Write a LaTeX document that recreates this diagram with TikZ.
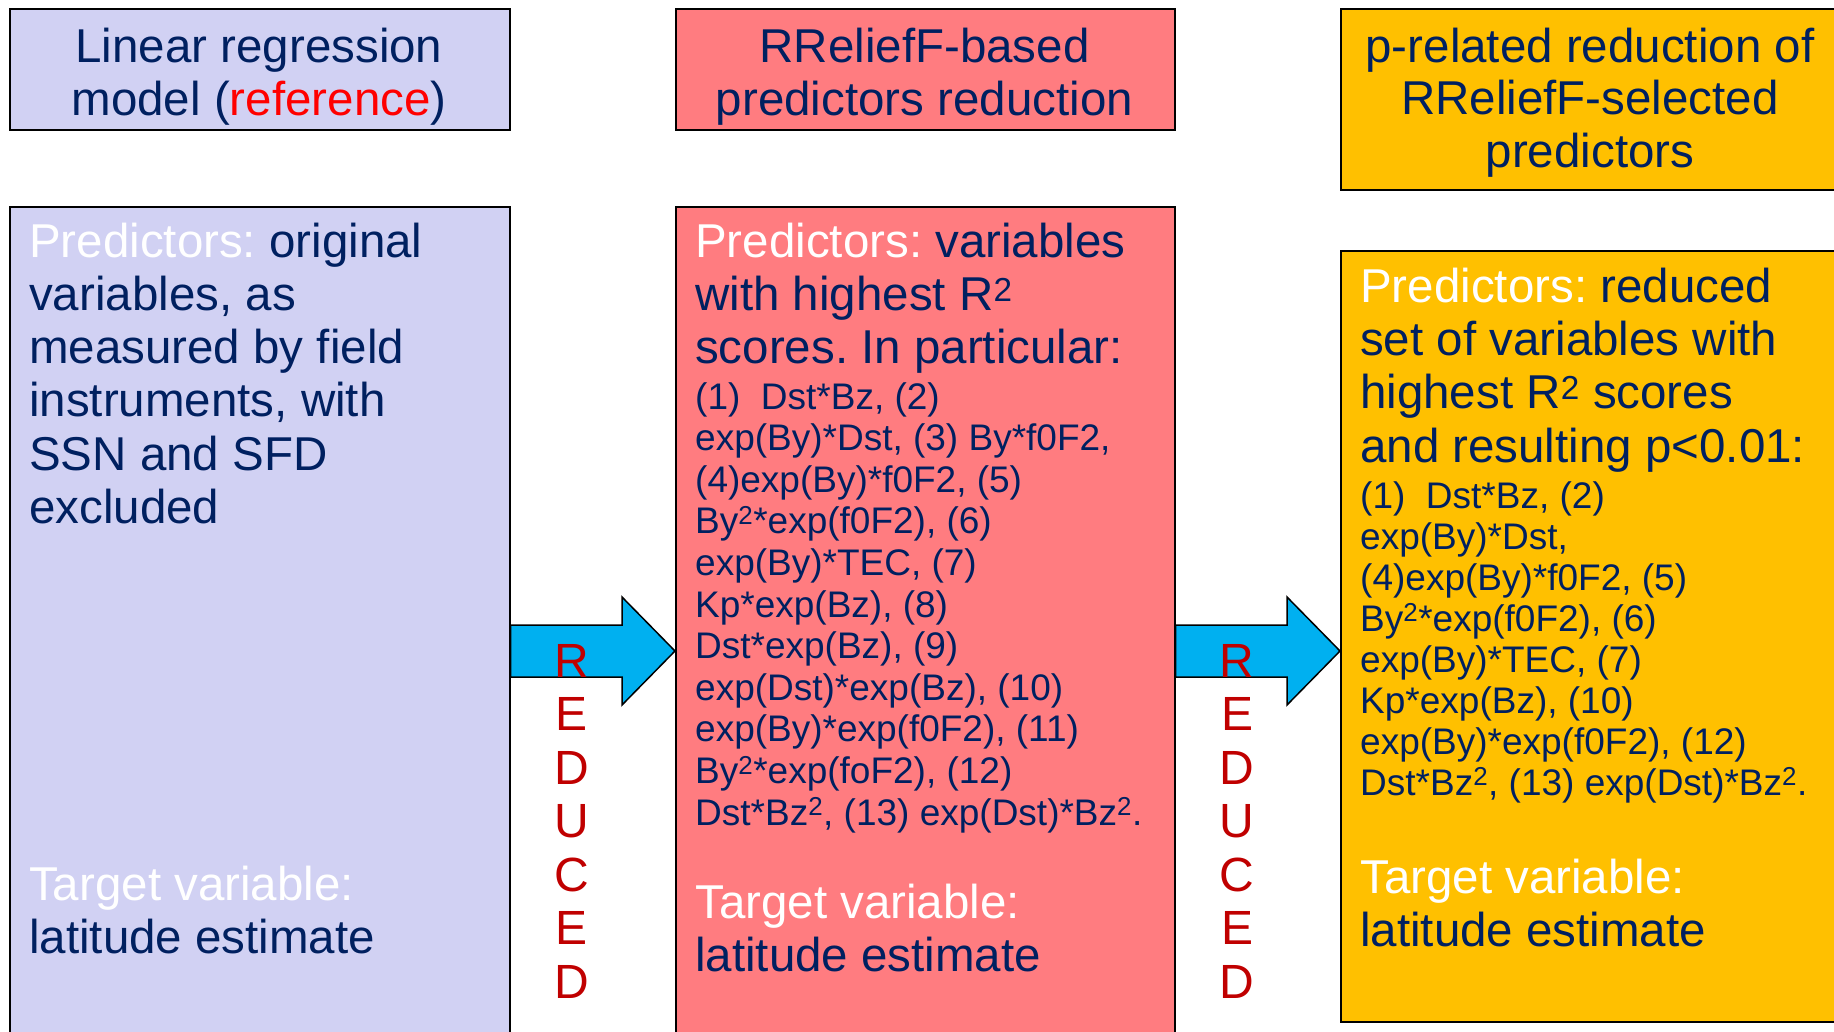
\documentclass[tikz,border=0pt]{standalone}
\usepackage{fontspec}
\setmainfont{Liberation Sans}
\usetikzlibrary{calc}
\frenchspacing
\definecolor{navy}{HTML}{002060}
\definecolor{lavender}{HTML}{D1D1F3}
\definecolor{salmon}{HTML}{FF7C80}
\definecolor{amber}{HTML}{FFC000}
\definecolor{darkred}{HTML}{C00000}
\definecolor{sky}{HTML}{00B0F0}
\tikzset{
  box/.style={draw=black, line width=1.5pt, rectangle, anchor=north west, inner sep=0pt},
  bigtext/.style={font=\fontsize{47.5}{53.3}\selectfont, text=navy, inner sep=0pt},
  listtext/.style={font=\fontsize{37}{41.6}\selectfont, text=navy, inner sep=0pt, align=left, anchor=base west},
  bodytext/.style={bigtext, align=left, anchor=base west},
  headtext/.style={bigtext, align=center, anchor=base},
  vertword/.style={font=\fontsize{48}{53.5}\selectfont, text=darkred, inner sep=0pt, align=center, anchor=base},
  blockarrow/.style={draw=black, line width=1.5pt, fill=sky, line join=miter}
}
\newcommand{\lbl}[1]{{\color{white}#1}}
\begin{document}
\begin{tikzpicture}[x=1pt, y=-1pt]
\useasboundingbox (0,0) rectangle (1834,1031);
\clip (0,0) rectangle (1834,1031);

% column boxes
\node[box, fill=lavender, minimum width=500pt, minimum height=121pt] (h1) at (9,8) {};
\node[box, fill=salmon, minimum width=499pt, minimum height=121pt] (h2) at (675,8) {};
\node[box, fill=amber, minimum width=500pt, minimum height=181pt] (h3) at (1340,8) {};
\node[box, fill=lavender, minimum width=500pt, minimum height=900pt] (b1) at (9,206) {};
\node[box, fill=salmon, minimum width=499pt, minimum height=900pt] (b2) at (675,206) {};
\node[box, fill=amber, minimum width=500pt, minimum height=771pt] (b3) at (1340,250) {};

% headers (each text is placed by the baseline of its last line)
\node[headtext] (h1t) at (259,115.3) {Linear regression\\model ({\color{red}reference})};
\node[headtext] (h2t) at (924.5,115.3) {RReliefF-based\\predictors reduction};
\node[headtext, font=\fontsize{47.5}{52.5}\selectfont] (h3t) at (1590,167) {p-related reduction of\\RReliefF-selected\\predictors};

% first column
\node[bodytext] (p1) at (29,523.5) {\lbl{Predictors:} original\\variables, as\\measured by field\\instruments, with\\SSN and SFD\\excluded};
\node[bodytext] (g1) at (29,953.3) {\lbl{Target variable:}\\latitude estimate};

% second column
\node[bodytext] (p2) at (695,363.6) {\lbl{Predictors:} variables\\with highest R\textsuperscript{2}\\scores. In particular:};
\node[listtext] (l2) at (695,825) {(1)~~Dst*Bz, (2)\\exp(By)*Dst, (3) By*f0F2,\\(4)exp(By)*f0F2, (5)\\By\textsuperscript{2}*exp(f0F2), (6)\\exp(By)*TEC, (7)\\Kp*exp(Bz), (8)\\Dst*exp(Bz), (9)\\exp(Dst)*exp(Bz), (10)\\exp(By)*exp(f0F2), (11)\\By\textsuperscript{2}*exp(foF2), (12)\\Dst*Bz\textsuperscript{2}, (13) exp(Dst)*Bz\textsuperscript{2}.};
\node[bodytext] (g2) at (695,971.3) {\lbl{Target variable:}\\latitude estimate};

% third column
\node[bodytext] (p3) at (1360,462) {\lbl{Predictors:} reduced\\set of variables with\\highest R\textsuperscript{2} scores\\and resulting p<0.01:};
\node[listtext, font=\fontsize{37}{41}\selectfont] (l3) at (1360,795) {(1)~~Dst*Bz, (2)\\exp(By)*Dst,\\(4)exp(By)*f0F2, (5)\\By\textsuperscript{2}*exp(f0F2), (6)\\exp(By)*TEC, (7)\\Kp*exp(Bz), (10)\\exp(By)*exp(f0F2), (12)\\Dst*Bz\textsuperscript{2}, (13) exp(Dst)*Bz\textsuperscript{2}.};
\node[bodytext] (g3) at (1360,946.3) {\lbl{Target variable:}\\latitude estimate};

% block arrows between the columns
\coordinate (arrowrow) at (0,651);
\coordinate (s1) at (b1.east |- arrowrow);
\coordinate (t1) at (b2.west |- arrowrow);
\coordinate (s2) at (b2.east |- arrowrow);
\coordinate (t2) at (b3.west |- arrowrow);
\foreach \s/\t in {s1/t1, s2/t2}{
  \draw[blockarrow] ($(\s)+(0,-26)$) -- ($(\t)+(-53,-26)$) -- ($(\t)+(-53,-54)$) -- (\t)
    -- ($(\t)+(-53,54)$) -- ($(\t)+(-53,26)$) -- ($(\s)+(0,26)$) -- cycle;
}
\node[vertword] (r1) at (572,998) {R\\E\\D\\U\\C\\E\\D};
\node[vertword] (r2) at (1237,998) {R\\E\\D\\U\\C\\E\\D};
\end{tikzpicture}
\end{document}
